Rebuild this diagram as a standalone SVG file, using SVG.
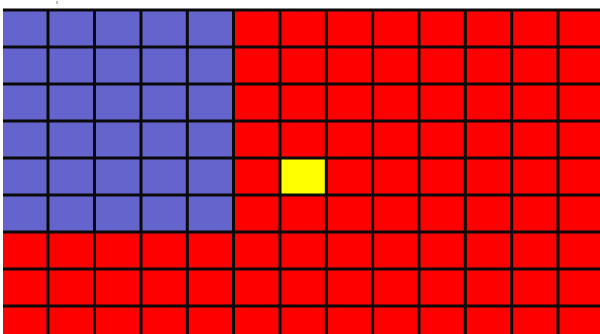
<svg xmlns="http://www.w3.org/2000/svg" width="600" height="334" viewBox="0 0 600 334">
<style>
.g{stroke:#0a0a0a;stroke-width:3;fill:none}
</style>
<rect width="600" height="334" fill="#ffffff"/>
<rect x="3" y="10" width="597" height="324" fill="#ff0000"/>
<rect x="3" y="10" width="230.5" height="222" fill="#6464cc"/>
<rect x="280" y="158" width="46" height="37" fill="#ffff00"/>
<rect x="56" y="1" width="2" height="3" fill="#bbbbbb"/>
<g id="grid" class="g">
<path d="M3 10H600M3 47H600M3 84H600M3 121H600M3 158H600M3 195H600M3 232H600M3 269H600M3 306H600"/>
<path d="M48 10V334M94.5 10V334M141 10V334M187.3 10V334M233.5 10V334M280 10V334M326.3 10V334M372.6 10V334M419 10V334M465.3 10V334M511.7 10V334M558 10V334"/>
</g>
</svg>
